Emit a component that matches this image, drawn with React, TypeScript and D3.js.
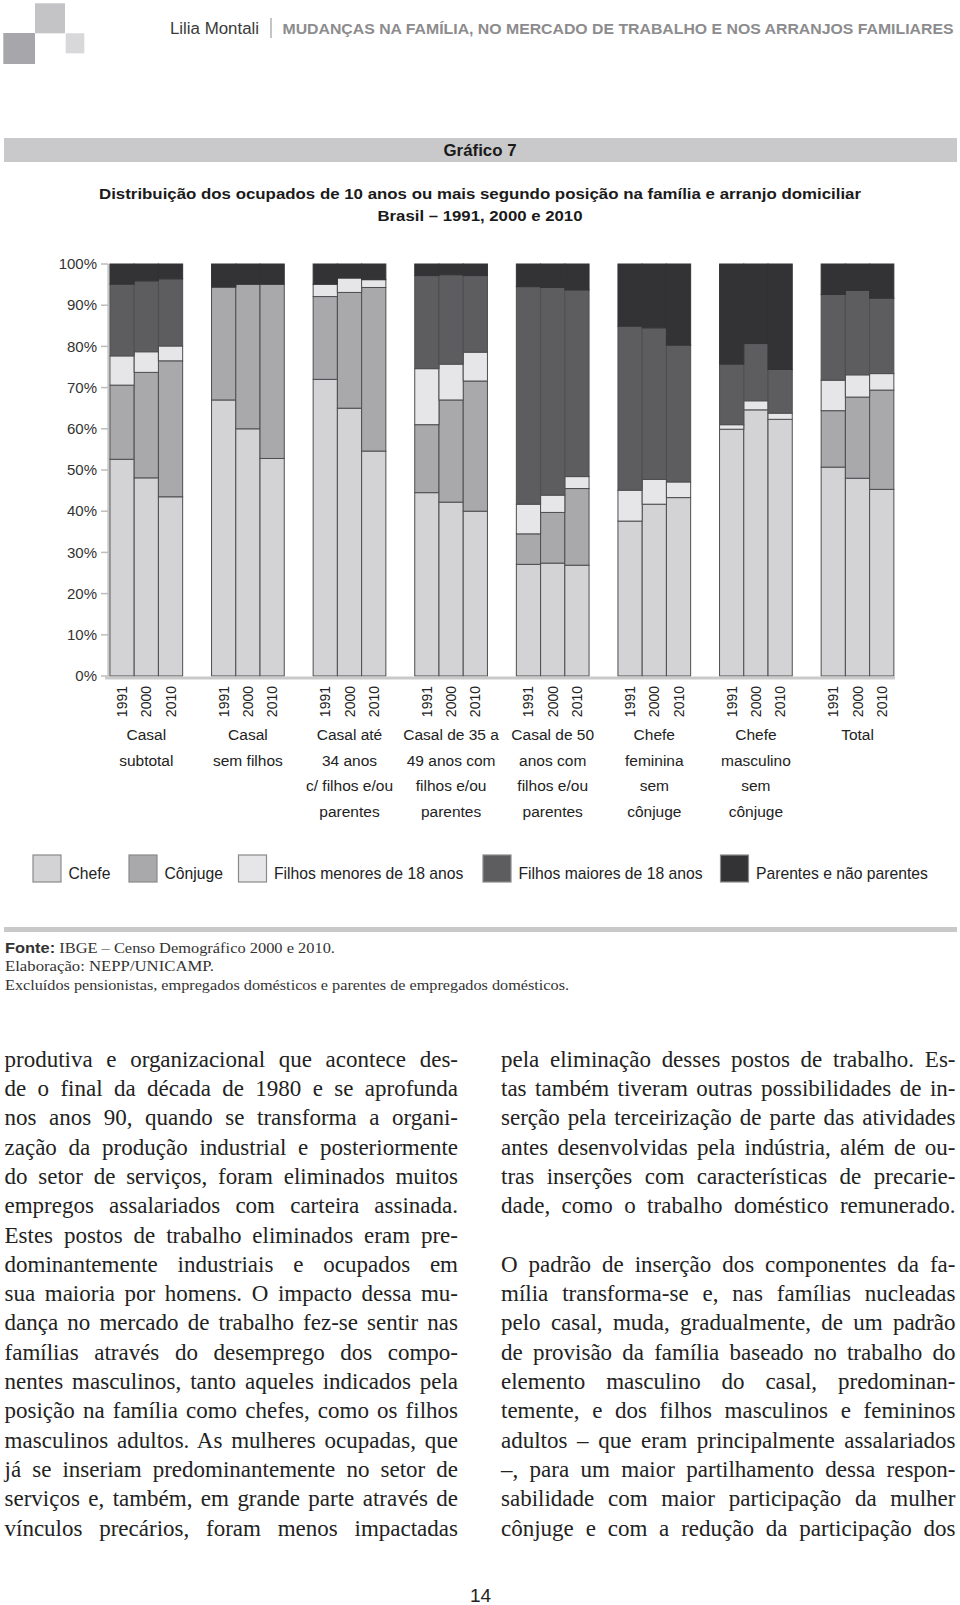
import React from 'react';
import * as d3 from 'd3';

// ---------------- DATA ----------------
const categories = [
  'Casal subtotal',
  'Casal sem filhos',
  'Casal até 34 anos c/ filhos e/ou parentes',
  'Casal de 35 a 49 anos com filhos e/ou parentes',
  'Casal de 50 anos com filhos e/ou parentes',
  'Chefe feminina sem cônjuge',
  'Chefe masculino sem cônjuge',
  'Total',
];
const categoryLines = [
  ['Casal', 'subtotal'],
  ['Casal', 'sem filhos'],
  ['Casal até', '34 anos', 'c/ filhos e/ou', 'parentes'],
  ['Casal de 35 a', '49 anos com', 'filhos e/ou', 'parentes'],
  ['Casal de 50', 'anos com', 'filhos e/ou', 'parentes'],
  ['Chefe', 'feminina', 'sem', 'cônjuge'],
  ['Chefe', 'masculino', 'sem', 'cônjuge'],
  ['Total'],
];
const years = ['1991', '2000', '2010'];
const seriesNames = [
  'Chefe',
  'Cônjuge',
  'Filhos menores de 18 anos',
  'Filhos maiores de 18 anos',
  'Parentes e não parentes',
];
// values per category, in year order 1991, 2000, 2010 (percent)
const chefe = [
  52.6, 48.1, 43.5,
  67.0, 60.0, 52.8,
  72.0, 65.0, 54.6,
  44.5, 42.2, 40.0,
  27.1, 27.4, 26.9,
  37.6, 41.7, 43.3,
  59.9, 64.6, 62.3,
  50.7, 48.0, 45.3,
];
const conjuge = [
  18.0, 25.6, 33.0,
  27.4, 35.1, 42.3,
  20.1, 28.1, 39.7,
  16.5, 24.8, 31.6,
  7.4, 12.3, 18.6,
  0, 0, 0,
  0, 0, 0,
  13.7, 19.7, 24.1,
];
const filhosMenores = [
  7.1, 5.0, 3.6,
  0, 0, 0,
  3.0, 3.5, 1.9,
  13.6, 8.7, 7.0,
  7.2, 4.2, 2.9,
  7.5, 6.0, 3.8,
  1.1, 2.2, 1.5,
  7.4, 5.4, 4.0,
];
const filhosMaiores = [
  17.4, 17.2, 16.3,
  0, 0, 0,
  0, 0, 0,
  22.6, 21.7, 18.6,
  52.8, 50.4, 45.3,
  39.8, 36.8, 33.2,
  14.7, 13.9, 10.6,
  20.8, 20.5, 18.3,
];
const parentes = [
  4.9, 4.1, 3.6,
  5.6, 4.9, 4.9,
  4.9, 3.4, 3.8,
  2.8, 2.6, 2.8,
  5.5, 5.7, 6.3,
  15.1, 15.5, 19.7,
  24.3, 19.3, 25.6,
  7.4, 6.4, 8.3,
];
const seriesValues = [chefe, conjuge, filhosMenores, filhosMaiores, parentes];
const yTicks = [0, 10, 20, 30, 40, 50, 60, 70, 80, 90, 100];

const leftColumn = [
  'produtiva e organizacional que acontece des-',
  'de o final da década de 1980 e se aprofunda',
  'nos anos 90, quando se transforma a organi-',
  'zação da produção industrial e posteriormente',
  'do setor de serviços, foram eliminados muitos',
  'empregos assalariados com carteira assinada.',
  'Estes postos de trabalho eliminados eram pre-',
  'dominantemente industriais e ocupados em',
  'sua maioria por homens. O impacto dessa mu-',
  'dança no mercado de trabalho fez-se sentir nas',
  'famílias através do desemprego dos compo-',
  'nentes masculinos, tanto aqueles indicados pela',
  'posição na família como chefes, como os filhos',
  'masculinos adultos. As mulheres ocupadas, que',
  'já se inseriam predominantemente no setor de',
  'serviços e, também, em grande parte através de',
  'vínculos precários, foram menos impactadas',
];
const rightColumn = [
  'pela eliminação desses postos de trabalho. Es-',
  'tas também tiveram outras possibilidades de in-',
  'serção pela terceirização de parte das atividades',
  'antes desenvolvidas pela indústria, além de ou-',
  'tras inserções com características de precarie-',
  'dade, como o trabalho doméstico remunerado.',
  '',
  'O padrão de inserção dos componentes da fa-',
  'mília transforma-se e, nas famílias nucleadas',
  'pelo casal, muda, gradualmente, de um padrão',
  'de provisão da família baseado no trabalho do',
  'elemento masculino do casal, predominan-',
  'temente, e dos filhos masculinos e femininos',
  'adultos – que eram principalmente assalariados',
  '–, para um maior partilhamento dessa respon-',
  'sabilidade com maior participação da mulher',
  'cônjuge e com a redução da participação dos',
];

// ---------------- STYLE ----------------
const colors = ['#d3d3d5', '#a9a9ac', '#e6e6e8', '#5d5d60', '#333335'];
const SANS = 'Arial, "Liberation Sans", Helvetica, sans-serif';
const NARROW = '"Liberation Sans Narrow", "Arial Narrow", Arial, sans-serif';
const SERIF = '"Liberation Serif", "Times New Roman", serif';

let measureCtx: CanvasRenderingContext2D | null = null;
function measure(text: string, font: string): number {
  if (!measureCtx) {
    const c = document.createElement('canvas');
    measureCtx = c.getContext('2d');
  }
  if (!measureCtx) return text.length * 9;
  measureCtx.font = font;
  return measureCtx.measureText(text).width;
}

function JustifiedLine({ text, x, y, width, size }: { text: string; x: number; y: number; width: number; size: number }) {
  if (!text) return null;
  const natural = measure(text, `${size}px "Liberation Serif"`);
  const gaps = (text.match(/ /g) || []).length;
  const ws = gaps ? (width - natural) / gaps : 0;
  return (
    <text
      x={x}
      y={y}
      fontFamily={SERIF}
      fontSize={size}
      fill="#222"
      style={{ wordSpacing: `${ws}px` }}
      textLength={width}
      lengthAdjust="spacing"
    >
      {text}
    </text>
  );
}

export default function App() {
  const W = 960;
  const H = 1605;

  // chart scales
  const x = d3
    .scaleBand<string>()
    .domain(categories)
    .range([95.5, 908.3])
    .paddingInner(0.2844)
    .paddingOuter(0.1422);
  const xi = d3.scaleBand<string>().domain(years).range([0, x.bandwidth()]).padding(0);
  const y = d3.scaleLinear().domain([0, 100]).range([676, 264]);

  const rows = categories.flatMap((c, i) =>
    years.map((yr, j) => {
      const r: any = { cat: c, year: yr };
      seriesNames.forEach((s, k) => {
        r[s] = seriesValues[k][i * 3 + j];
      });
      return r;
    })
  );
  const stacked = d3.stack<any>().keys(seriesNames)(rows);

  const legendX = [33, 129, 238.5, 483, 720.5];

  const bodyTop = 1066.7;
  const lineH = 29.3;

  return (
    <div style={{ position: 'absolute', left: 0, top: 0, width: W, height: H }}>
      <svg width={W} height={H} viewBox={`0 0 ${W} ${H}`} style={{ display: 'block', background: '#fff' }}>
        {/* header logo */}
        <rect x={35} y={3.3} width={30} height={30} fill="#c4c4c6" />
        <rect x={3.3} y={33} width={31.7} height={31} fill="#a7a7ab" />
        <rect x={65.7} y={33.3} width={18.6} height={20} fill="#d8d8da" />

        {/* header text */}
        <text x={170} y={33.5} fontFamily={NARROW} fontSize={16} fill="#3a3a3a" textLength={89} lengthAdjust="spacingAndGlyphs">
          Lilia Montali
        </text>
        <line x1={271} x2={271} y1={18} y2={38} stroke="#b0b0b0" strokeWidth={1.5} />
        <text x={282.5} y={33.5} fontFamily={NARROW} fontSize={15} fontWeight="bold" fill="#8c8c8e" textLength={671} lengthAdjust="spacingAndGlyphs">
          MUDANÇAS NA FAMÍLIA, NO MERCADO DE TRABALHO E NOS ARRANJOS FAMILIARES
        </text>

        {/* Gráfico 7 band */}
        <rect x={4} y={138} width={953} height={24} fill="#c9c9cb" />
        <text x={480} y={155.5} textAnchor="middle" fontFamily={SANS} fontSize={16} fontWeight="bold" fill="#1a1a1a" textLength={73} lengthAdjust="spacingAndGlyphs">
          Gráfico 7
        </text>

        {/* title */}
        <text x={480} y={199} textAnchor="middle" fontFamily={SANS} fontSize={15.5} fontWeight="bold" fill="#1a1a1a" textLength={762} lengthAdjust="spacingAndGlyphs">
          Distribuição dos ocupados de 10 anos ou mais segundo posição na família e arranjo domiciliar
        </text>
        <text x={480} y={220.5} textAnchor="middle" fontFamily={SANS} fontSize={15.5} fontWeight="bold" fill="#1a1a1a" textLength={205} lengthAdjust="spacingAndGlyphs">
          Brasil – 1991, 2000 e 2010
        </text>

        {/* y axis */}
        <line x1={108.3} x2={108.3} y1={y(100)} y2={678.5} stroke="#c8c8c8" strokeWidth={2} />
        {yTicks.map((t) => (
          <g key={t}>
            <line x1={101} x2={108} y1={y(t)} y2={y(t)} stroke="#bdbdbd" strokeWidth={1.5} />
            <text x={97} y={y(t)} dy="0.35em" textAnchor="end" fontFamily={SANS} fontSize={15} fill="#333">
              {`${t}%`}
            </text>
          </g>
        ))}

        {/* bars */}
        {stacked.map((layer, k) => (
          <g key={layer.key} fill={colors[k]}>
            {layer.map((d: any, idx: number) => {
              if (d[1] - d[0] <= 0.001) return null;
              const row = d.data;
              const bx = (x(row.cat) as number) + (xi(row.year) as number);
              return (
                <rect
                  key={idx}
                  x={bx}
                  y={y(d[1])}
                  width={xi.bandwidth()}
                  height={y(d[0]) - y(d[1])}
                  stroke={k === 4 ? '#333335' : '#4e4e50'}
                  strokeWidth={1}
                />
              );
            })}
          </g>
        ))}

        {/* bottom axis */}
        <line x1={105} x2={895} y1={678} y2={678} stroke="#cacaca" strokeWidth={3} />

        {/* year labels */}
        {categories.map((c) =>
          years.map((yr) => {
            const cx = (x(c) as number) + (xi(yr) as number) + xi.bandwidth() / 2;
            return (
              <text
                key={c + yr}
                transform={`translate(${cx},686) rotate(-90)`}
                textAnchor="end"
                dominantBaseline="central"
                fontFamily={SANS}
                fontSize={14}
                fill="#222"
              >
                {yr}
              </text>
            );
          })
        )}

        {/* category labels */}
        {categories.map((c, i) => (
          <text key={c} textAnchor="middle" fontFamily={SANS} fontSize={15.5} fill="#222">
            {categoryLines[i].map((ln, j) => (
              <tspan key={j} x={(x(c) as number) + x.bandwidth() / 2} y={740 + j * 25.5}>
                {ln}
              </tspan>
            ))}
          </text>
        ))}

        {/* legend */}
        {seriesNames.map((s, k) => (
          <g key={s}>
            <rect x={legendX[k]} y={855} width={28} height={27} fill={colors[k]} stroke="#8a8a8a" strokeWidth={1.2} />
            <text x={legendX[k] + 35.5} y={878.5} fontFamily={SANS} fontSize={15.7} fill="#222">
              {s}
            </text>
          </g>
        ))}

        {/* source rule */}
        <rect x={4} y={927} width={953} height={5} fill="#c9c9c9" />
        <text x={5} y={952.5} fontSize={15} fill="#333" textLength={330} lengthAdjust="spacingAndGlyphs">
          <tspan fontFamily={SANS} fontWeight="bold">Fonte:</tspan>
          <tspan fontFamily={SERIF}> IBGE – Censo Demográfico 2000 e 2010.</tspan>
        </text>
        <text x={5} y={971} fontFamily={SERIF} fontSize={15} fill="#333" textLength={209} lengthAdjust="spacingAndGlyphs">
          Elaboração: NEPP/UNICAMP.
        </text>
        <text x={5} y={990} fontFamily={SERIF} fontSize={15} fill="#333" textLength={564} lengthAdjust="spacingAndGlyphs">
          Excluídos pensionistas, empregados domésticos e parentes de empregados domésticos.
        </text>

        {/* body text */}
        {leftColumn.map((ln, i) => (
          <JustifiedLine key={'l' + i} text={ln} x={4.5} y={bodyTop + i * lineH} width={453.5} size={23} />
        ))}
        {rightColumn.map((ln, i) => (
          <JustifiedLine key={'r' + i} text={ln} x={501} y={bodyTop + i * lineH} width={454.5} size={23} />
        ))}

        {/* page number */}
        <text x={480.5} y={1601.5} textAnchor="middle" fontFamily={SANS} fontSize={19} fill="#222">
          14
        </text>
      </svg>
    </div>
  );
}
